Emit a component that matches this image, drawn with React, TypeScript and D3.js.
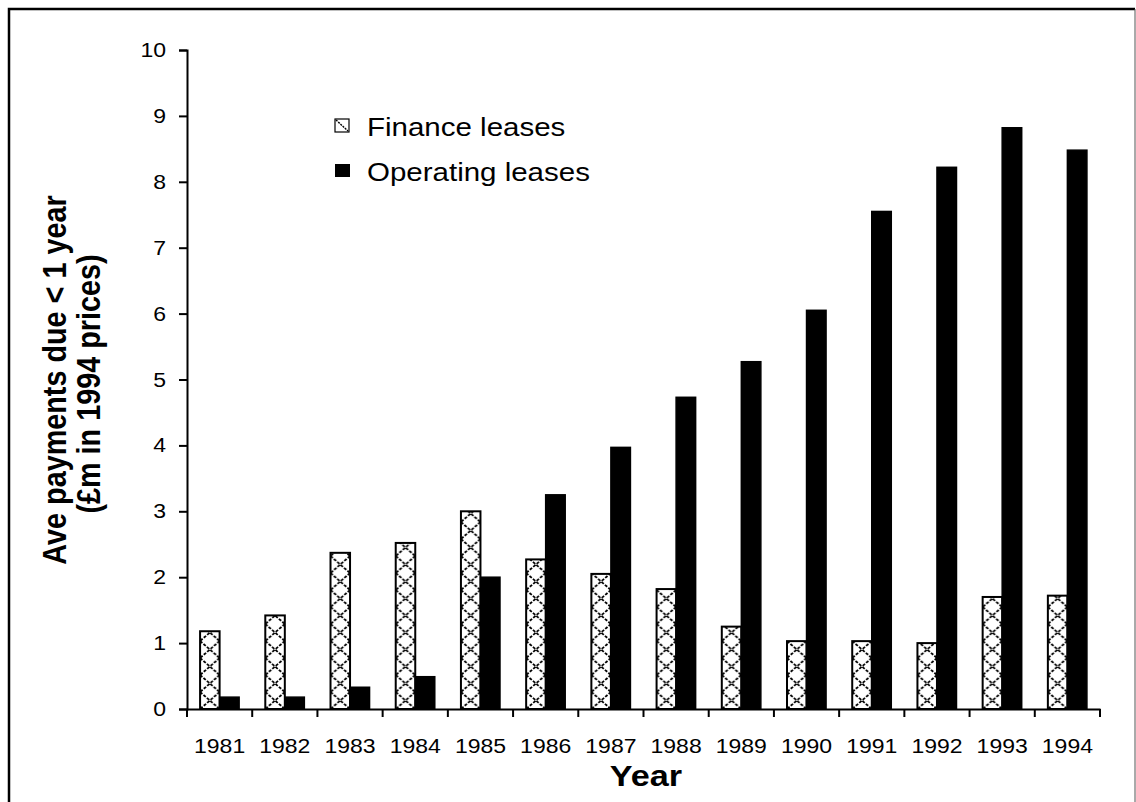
import React, { useEffect, useRef } from 'react';
import * as d3 from 'd3';

const years = ['1981', '1982', '1983', '1984', '1985', '1986', '1987', '1988', '1989', '1990', '1991', '1992', '1993', '1994'];
const financeLeases = [1.18, 1.42, 2.37, 2.52, 3.0, 2.27, 2.05, 1.82, 1.25, 1.03, 1.03, 1.0, 1.7, 1.72];
const operatingLeases = [0.18, 0.18, 0.33, 0.49, 2.0, 3.25, 3.97, 4.73, 5.27, 6.05, 7.55, 8.22, 8.82, 8.48];
const yTicks = [0, 1, 2, 3, 4, 5, 6, 7, 8, 9, 10];

function App() {
  const svgRef = useRef<SVGSVGElement>(null);

  useEffect(() => {
    const svg = d3.select(svgRef.current);
    svg.selectAll('*').remove();

    const width = 1136;
    const height = 802;
    const margin = { top: 50, right: 36, bottom: 93, left: 187 };
    const font = 'Liberation Sans, Arial, sans-serif';
    // the original picture is stretched sideways, so text is widened to match
    const sx = 1.18;

    svg.attr('width', width).attr('height', height)
      .style('position', 'absolute').style('left', 0).style('top', 0);

    // outer frame
    svg.append('path')
      .attr('d', 'M9,802V9H1135')
      .attr('fill', 'none').attr('stroke', 'black').attr('stroke-width', 2.5);
    svg.append('line')
      .attr('x1', 1135).attr('x2', 1135).attr('y1', 9).attr('y2', 802)
      .attr('stroke', '#555').attr('stroke-width', 1);

    const x = d3.scaleBand()
      .domain(years)
      .range([margin.left, width - margin.right])
      .paddingInner(0)
      .paddingOuter(0);

    const inner = d3.scaleBand()
      .domain(['finance', 'operating'])
      .range([0, x.bandwidth()])
      .paddingInner(0)
      .paddingOuter(0.67);

    const y = d3.scaleLinear()
      .domain([0, 10])
      .range([height - margin.bottom, margin.top]);

    const defs = svg.append('defs');
    const bw = inner.bandwidth();
    const ph = 17;

    years.forEach((yr, i) => {
      const px = x(yr)! + inner('finance')!;
      const p = defs.append('pattern')
        .attr('id', `hatch${i}`)
        .attr('patternUnits', 'userSpaceOnUse')
        .attr('x', px).attr('y', y(0))
        .attr('width', bw).attr('height', ph);
      p.append('rect').attr('width', bw).attr('height', ph).attr('fill', 'white');
      p.append('path')
        .attr('d', `M0,0L${bw},${ph}M${bw},0L0,${ph}`)
        .attr('stroke', 'black')
        .attr('stroke-width', 1.8)
        .attr('stroke-dasharray', '3,1.5');
    });

    const g = svg.append('g');

    years.forEach((yr, i) => {
      g.append('rect')
        .attr('x', x(yr)! + inner('finance')!)
        .attr('y', y(financeLeases[i]))
        .attr('width', bw)
        .attr('height', y(0) - y(financeLeases[i]))
        .attr('fill', `url(#hatch${i})`)
        .attr('stroke', 'black')
        .attr('stroke-width', 2);
      g.append('rect')
        .attr('x', x(yr)! + inner('operating')!)
        .attr('y', y(operatingLeases[i]))
        .attr('width', bw)
        .attr('height', y(0) - y(operatingLeases[i]))
        .attr('fill', 'black')
        .attr('stroke', 'black')
        .attr('stroke-width', 1.5);
    });

    // y axis
    const yAxis = svg.append('g')
      .attr('transform', `translate(${margin.left},0)`)
      .call(d3.axisLeft(y).tickValues(yTicks).tickSize(8).tickSizeOuter(8).tickFormat(() => ''));
    yAxis.select('.domain').attr('stroke-width', 2);
    yAxis.selectAll('.tick line').attr('stroke-width', 2);

    svg.append('g').selectAll('text')
      .data(yTicks)
      .join('text')
      .attr('transform', d => `translate(166,${y(d) + 7}) scale(${sx},1)`)
      .attr('text-anchor', 'end')
      .attr('font-family', font).attr('font-size', 19.5)
      .text(d => d);

    // x axis
    const xAxis = svg.append('g')
      .attr('transform', `translate(0,${y(0)})`)
      .call(d3.axisBottom(x).tickSize(0).tickFormat(() => ''));
    xAxis.select('.domain').attr('stroke-width', 2);

    svg.append('g').selectAll('text')
      .data(years)
      .join('text')
      .attr('transform', d => `translate(${x(d)! + x.bandwidth() / 2},753) scale(${sx},1)`)
      .attr('text-anchor', 'middle')
      .attr('font-family', font).attr('font-size', 19.5)
      .text(d => d);

    // x ticks at band boundaries
    const bounds = years.map(yr => x(yr)!).concat([x(years[years.length - 1])! + x.bandwidth()]);
    svg.append('g').selectAll('line')
      .data(bounds)
      .join('line')
      .attr('x1', d => d).attr('x2', d => d)
      .attr('y1', y(0)).attr('y2', y(0) + 8)
      .attr('stroke', 'black').attr('stroke-width', 2);

    // axis titles
    svg.append('text')
      .attr('transform', `translate(646,786) scale(${sx},1)`)
      .attr('text-anchor', 'middle')
      .attr('font-family', font).attr('font-size', 29).attr('font-weight', 'bold')
      .text('Year');

    svg.append('text')
      .attr('transform', `translate(66,380) scale(${sx},1) rotate(-90)`)
      .attr('text-anchor', 'middle')
      .attr('font-family', font).attr('font-size', 28.8).attr('font-weight', 'bold')
      .text('Ave payments due < 1 year');
    svg.append('text')
      .attr('transform', `translate(100,384) scale(${sx},1) rotate(-90)`)
      .attr('text-anchor', 'middle')
      .attr('font-family', font).attr('font-size', 28.8).attr('font-weight', 'bold')
      .text('(£m in 1994 prices)');

    // legend
    const legend = svg.append('g');
    legend.append('rect')
      .attr('x', 335).attr('y', 119)
      .attr('width', 14).attr('height', 13)
      .attr('fill', 'white').attr('stroke', 'black').attr('stroke-width', 1.2);
    legend.append('path')
      .attr('d', 'M336,120L348,131')
      .attr('stroke', 'black').attr('stroke-width', 1.4).attr('stroke-dasharray', '2,1');
    legend.append('text')
      .attr('transform', `translate(367,136) scale(${sx},1)`)
      .attr('font-family', font).attr('font-size', 25)
      .text('Finance leases');
    legend.append('rect')
      .attr('x', 335).attr('y', 164)
      .attr('width', 15).attr('height', 13)
      .attr('fill', 'black');
    legend.append('text')
      .attr('transform', `translate(367,181) scale(${sx},1)`)
      .attr('font-family', font).attr('font-size', 25)
      .text('Operating leases');
  }, []);

  return <svg ref={svgRef}></svg>;
}

export default App;
